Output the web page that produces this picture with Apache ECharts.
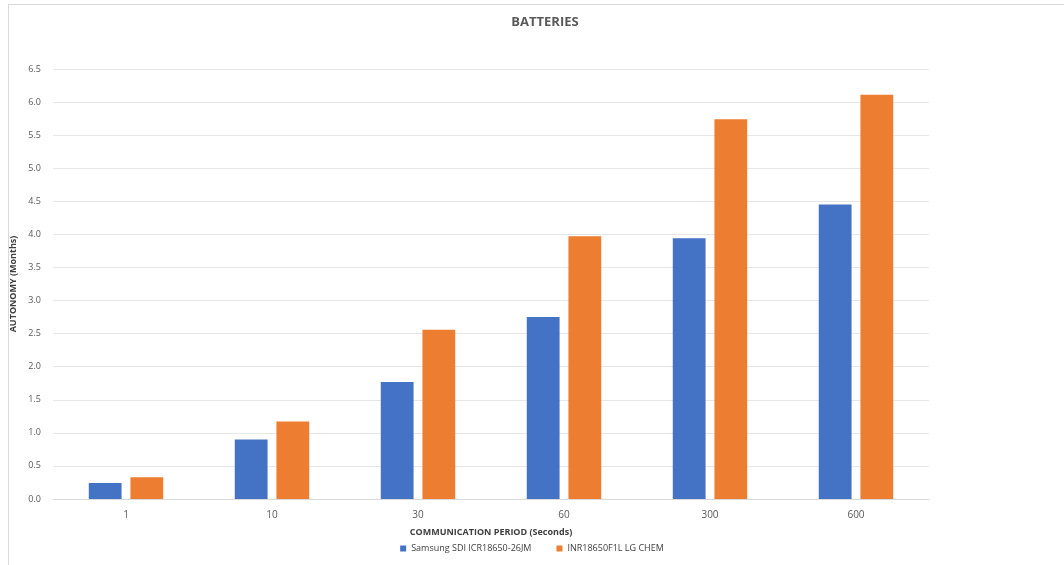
<!DOCTYPE html>
<html><head><meta charset="utf-8">
<script src="https://cdn.jsdelivr.net/npm/echarts@6/dist/echarts.min.js"></script>
<style>html,body{margin:0;padding:0;background:#fff;}#c{width:1064px;height:565px;}
#frame{position:absolute;left:8px;top:4px;width:1060px;height:570px;border:1px solid #d9d9d9;box-sizing:border-box;pointer-events:none;}</style>
</head><body><div id="c"></div><div id="frame"></div>
<script>
const categories = ['1', '10', '30', '60', '300', '600'];
const samsung = [0.24, 0.90, 1.77, 2.75, 3.94, 4.45];
const lgChem = [0.33, 1.17, 2.56, 3.97, 5.74, 6.11];
const seriesNames = ['Samsung SDI ICR18650-26JM', 'INR18650F1L LG CHEM'];
const font = 'Open Sans';
const chart = echarts.init(document.getElementById('c'));
chart.setOption({
  animation: false,
  title: { text: 'BATTERIES', left: 540, top: 11, textAlign: 'center',
    textStyle: { fontFamily: font, fontSize: 13, fontWeight: 'bold', color: '#595959' } },
  legend: { bottom: 7, left: 'center', itemWidth: 6, itemHeight: 6, itemGap: 25, icon: 'rect',
    textStyle: { fontFamily: font, fontSize: 9, color: '#404040' }, data: seriesNames },
  grid: { left: 53, right: 135, top: 69, bottom: 66, containLabel: false, outerBoundsMode: 'none' },
  xAxis: { type: 'category', data: categories,
    name: 'COMMUNICATION PERIOD (Seconds)', nameLocation: 'middle', nameGap: 29,
    nameTextStyle: { fontFamily: font, fontSize: 9, fontWeight: 'bold', color: '#404040' },
    axisLine: { lineStyle: { color: '#d9d9d9' } }, axisTick: { show: false },
    axisLabel: { fontFamily: font, fontSize: 10, color: '#595959', margin: 11 } },
  yAxis: { type: 'value', min: 0, max: 6.5, interval: 0.5,
    name: 'AUTONOMY (Months)', nameLocation: 'middle', nameGap: 35, nameRotate: 90,
    nameTextStyle: { fontFamily: font, fontSize: 9, fontWeight: 'bold', color: '#404040' },
    axisLine: { show: false }, axisTick: { show: false },
    splitLine: { lineStyle: { color: '#e6e6e6' } },
    axisLabel: { fontFamily: font, fontSize: 9, color: '#595959', margin: 12,
      formatter: v => v.toFixed(1) } },
  series: [
    { name: seriesNames[0], type: 'bar', data: samsung, itemStyle: { color: '#4472C4' },
      barGap: '27%', barCategoryGap: '49%' },
    { name: seriesNames[1], type: 'bar', data: lgChem, itemStyle: { color: '#ED7D31' } }
  ]
});
</script></body></html>
